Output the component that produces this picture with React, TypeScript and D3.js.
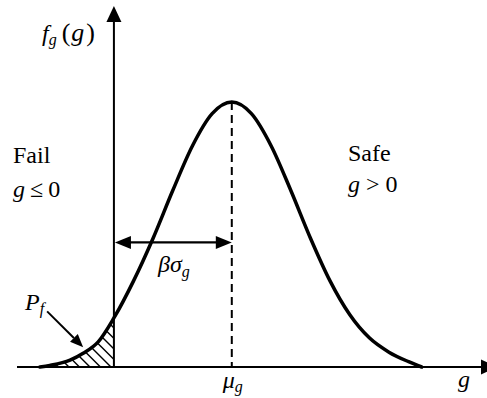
import React from 'react'
import { scaleLinear, line, area, curveMonotoneX, range } from 'd3'

// density curve (g in sigma units, f relative to peak)
const curveG = [-1.13, -0.98, -0.67, -0.47, -0.24, 0, 0.3, 0.6, 0.9, 1.2, 1.5, 1.8, 2.1, 2.4, 2.7, 3.0, 3.3, 3.6, 3.9, 4.2, 4.5, 4.7]
const curveF = [0, 0.006, 0.026, 0.052, 0.095, 0.185, 0.325, 0.487, 0.667, 0.835, 0.956, 1, 0.956, 0.835, 0.667, 0.487, 0.325, 0.198, 0.11, 0.056, 0.02, 0]

const mu = 1.8
const limitG = 0
const arrowF = 0.47
const gExtent = [-1.48, 5.85]
const fTop = 1.362
const pfFrom = [-1.02, 0.21]
const pfTo = [-0.47, 0.075]

const W = 487
const H = 398
const SERIF = 'Liberation Serif'

const App = () => {
  const x = scaleLinear().domain(gExtent).range([17, 497])
  const y = scaleLinear().domain([0, 1]).range([367, 102])

  const pts = curveG.map((g, i) => ({ g, f: curveF[i] }))
  const curvePath = line<any>().x(d => x(d.g)).y(d => y(d.f)).curve(curveMonotoneX)(pts)
  const failPath = area<any>()
    .x(d => x(d.g))
    .y0(y(0))
    .y1(d => y(d.f))
    .curve(curveMonotoneX)(pts.filter(d => d.g <= limitG))

  const x0 = x(limitG)
  const xm = x(mu)
  const ya = y(arrowF)
  const base = y(0)

  // hatch lines, "\" direction
  const hatch = range(x0 + 60, x(curveG[0]) - 5, -10.5)

  const ang = Math.atan2(y(pfTo[1]) - y(pfFrom[1]), x(pfTo[0]) - x(pfFrom[0]))
  const tipX = x(pfTo[0])
  const tipY = y(pfTo[1])
  const hl = 13
  const hw = 5.5
  const bx = tipX - hl * Math.cos(ang)
  const by = tipY - hl * Math.sin(ang)
  const pfHead = [
    [tipX, tipY],
    [bx + hw * Math.sin(ang), by - hw * Math.cos(ang)],
    [bx - hw * Math.sin(ang), by + hw * Math.cos(ang)],
  ]
    .map(p => p.join(','))
    .join(' ')

  return (
    <svg width={W} height={H} style={{ position: 'absolute', left: 0, top: 0, background: '#fff' }}>
      <defs>
        <clipPath id="failClip">
          <path d={failPath || ''} />
        </clipPath>
      </defs>

      {/* hatched failure region */}
      <g clipPath="url(#failClip)">
        {hatch.map((h, i) => (
          <line key={i} x1={h - 80} y1={base - 80} x2={h} y2={base} stroke="#000" strokeWidth={1.4} />
        ))}
      </g>

      {/* x axis */}
      <line x1={x(gExtent[0])} y1={base} x2={x(gExtent[1]) - 14} y2={base} stroke="#000" strokeWidth={2} />
      <polygon points={`${x(gExtent[1])},${base} ${x(gExtent[1]) - 16},${base - 7.5} ${x(gExtent[1]) - 16},${base + 7.5}`} fill="#000" />

      {/* y axis */}
      <line x1={x0} y1={base} x2={x0} y2={y(fTop) + 14} stroke="#000" strokeWidth={2} />
      <polygon points={`${x0},${y(fTop)} ${x0 - 7.5},${y(fTop) + 16} ${x0 + 7.5},${y(fTop) + 16}`} fill="#000" />

      {/* mean line */}
      <line x1={xm} y1={y(1)} x2={xm} y2={base} stroke="#000" strokeWidth={2} strokeDasharray="8 5" />

      {/* density curve */}
      <path d={curvePath || ''} fill="none" stroke="#000" strokeWidth={3.5} strokeLinecap="round" />

      {/* beta sigma arrow */}
      <line x1={x0 + 12} y1={ya} x2={xm - 12} y2={ya} stroke="#000" strokeWidth={2.2} />
      <polygon points={`${x0 + 1},${ya} ${x0 + 17},${ya - 6.5} ${x0 + 17},${ya + 6.5}`} fill="#000" />
      <polygon points={`${xm},${ya} ${xm - 16},${ya - 6.5} ${xm - 16},${ya + 6.5}`} fill="#000" />

      {/* Pf arrow */}
      <line x1={x(pfFrom[0])} y1={y(pfFrom[1])} x2={bx} y2={by} stroke="#000" strokeWidth={2} />
      <polygon points={pfHead} fill="#000" />

      {/* labels */}
      <g fontFamily={SERIF} fontSize={24}>
        <text x={42} y={41} fontFamily={SERIF}>
          <tspan fontStyle="italic">f</tspan>
          <tspan fontStyle="italic" fontSize={16} dy={4}>g</tspan>
          <tspan dy={-4} dx={5} fontSize={26}>(</tspan>
          <tspan fontStyle="italic" fontSize={26} dx={1}>g</tspan>
          <tspan fontSize={26} dx={2}>)</tspan>
        </text>

        <text x={13} y={163} fontFamily={SERIF}>Fail</text>
        <text x={13} y={197} fontFamily={SERIF}>
          <tspan fontStyle="italic">g</tspan>
          <tspan dx={5}>≤</tspan>
          <tspan dx={5}>0</tspan>
        </text>

        <text x={348} y={161} fontFamily={SERIF}>Safe</text>
        <text x={348} y={192} fontFamily={SERIF}>
          <tspan fontStyle="italic">g</tspan>
          <tspan dx={6}>&gt;</tspan>
          <tspan dx={6}>0</tspan>
        </text>

        <text x={158} y={272} fontFamily={SERIF}>
          <tspan fontStyle="italic">βσ</tspan>
          <tspan fontStyle="italic" fontSize={16} dy={5}>g</tspan>
        </text>

        <text x={25} y={310} fontFamily={SERIF}>
          <tspan fontStyle="italic">P</tspan>
          <tspan fontStyle="italic" fontSize={16} dy={4}>f</tspan>
        </text>

        <text x={xm - 9} y={388} fontFamily={SERIF}>
          <tspan fontStyle="italic">μ</tspan>
          <tspan fontStyle="italic" fontSize={16} dy={4}>g</tspan>
        </text>

        <text x={458} y={387} fontFamily={SERIF} fontStyle="italic">g</text>
      </g>
    </svg>
  )
}

export default App
